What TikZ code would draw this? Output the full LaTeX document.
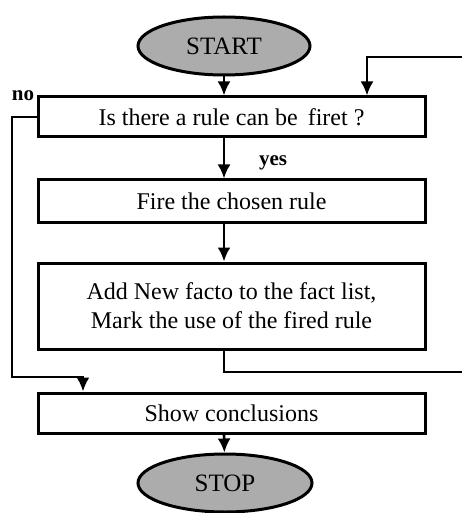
\documentclass[tikz,border=0pt]{standalone}
\usepackage{fontspec}
\setmainfont{Liberation Serif}
\usepackage{tikz}
\usetikzlibrary{arrows.meta,shapes.geometric}

\tikzset{
  stepbox/.style={draw, line width=1.5pt, minimum width=193.5pt, inner sep=0pt, align=center, font=\fontsize{12}{14.5}\selectfont},
  term/.style={ellipse, draw, line width=1.5pt, fill=gray!65, inner sep=0pt, font=\fontsize{12.5}{14}\selectfont},
  arr/.style={line width=1.3pt, -{Latex[length=7pt,width=6.5pt]}},
  lbl/.style={font=\bfseries\fontsize{10.5}{12}\selectfont, inner sep=0pt}
}

\begin{document}
\begin{tikzpicture}[x=0.5pt, y=-0.5pt]
\useasboundingbox (0,0) rectangle (461,513);
%terminals and boxes
\node[term, minimum width=86pt, minimum height=29pt] (start) at (224,46) {START};
\node[stepbox, minimum height=20pt] (ask) at (231.5,117) {Is there a rule can be \,firet ?};
\node[stepbox, minimum height=21pt] (fire) at (231.5,201) {Fire the chosen rule};
\node[stepbox, minimum height=43pt] (add) at (231.5,306) {Add New facto to the fact list,\\Mark the use of the fired rule};
\node[stepbox, minimum height=20pt] (show) at (231.5,413) {Show conclusions};
\node[term, minimum width=87pt, minimum height=29pt] (stop) at (225,483) {STOP};
%labels
\node[lbl] (no) at (23,96) {no};
\node[lbl] (yes) at (273,163) {yes};
%main flow
\draw[arr] (start) -- (ask.north -| start);
\draw[arr] (ask.south -| start) -- (fire.north -| start);
\draw[arr] (fire.south -| start) -- (add.north -| start);
\draw[arr] (show.south -| start) -- (stop);
%loop back to the rule test
\coordinate (backlow) at (470,372);
\coordinate (backtop) at (470,57);
\coordinate (backin) at (367,57);
\draw[arr] (add.south -| start) |- (backlow) -- (backtop) -- (backin) -- (ask.north -| backin);
%no branch
\coordinate (nolow) at (12,377);
\coordinate (noin) at (83,377);
\draw[arr] (ask.west) -- (ask.west -| nolow) -- (nolow) -- (noin) -- (show.north -| noin);
\end{tikzpicture}
\end{document}
